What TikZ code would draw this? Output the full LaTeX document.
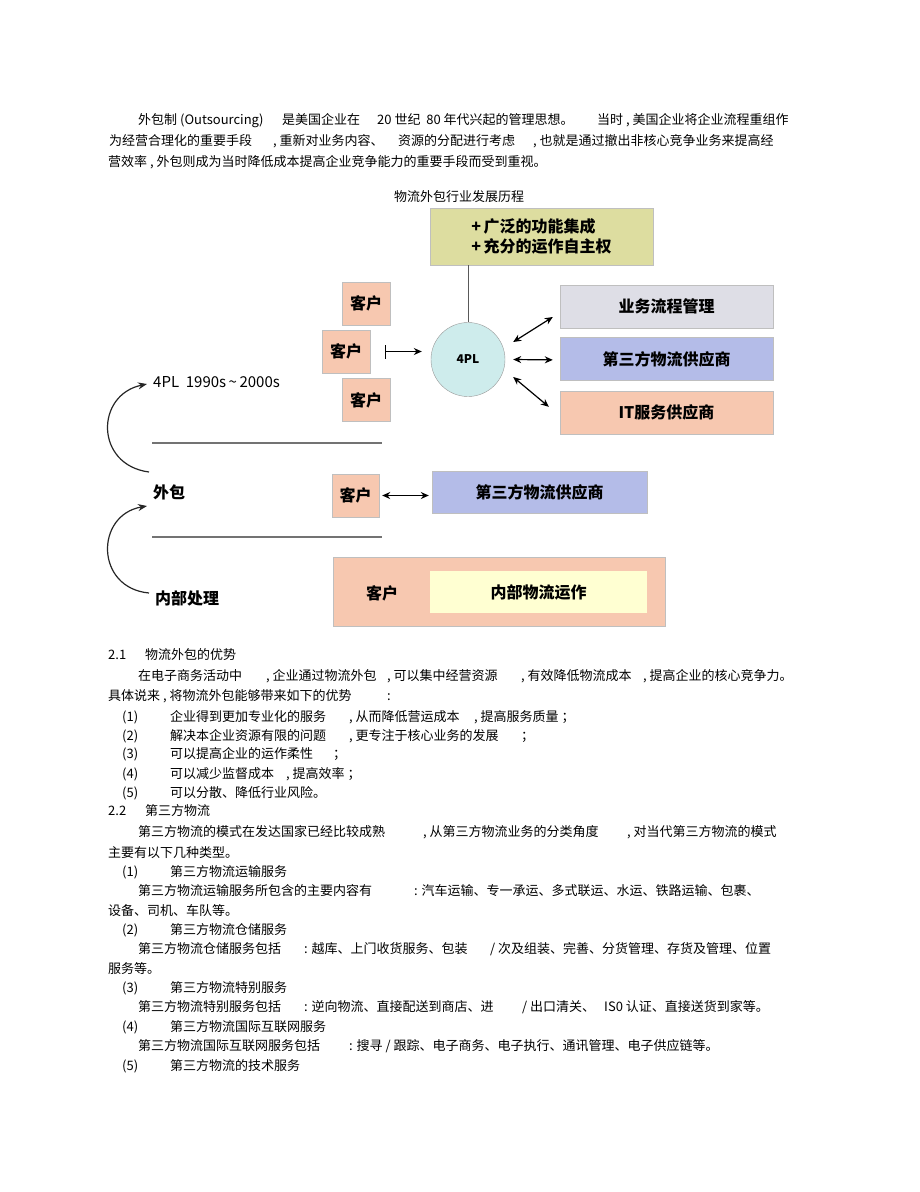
\documentclass[tikz,border=0pt]{standalone}
\usepackage{fontspec}
\setmainfont{Noto Sans CJK SC}
\usetikzlibrary{arrows.meta,positioning,calc}

\definecolor{clientc}{RGB}{247,200,176}
\definecolor{topc}{RGB}{221,221,160}
\definecolor{bpmc}{RGB}{222,222,230}
\definecolor{tplc}{RGB}{180,188,232}
\definecolor{cyanc}{RGB}{206,236,236}
\definecolor{inyc}{RGB}{255,255,210}

\newcommand\gapbox[2]{\makebox[#1pt][l]{#2}}

\tikzset{
  body/.style={anchor=base west, inner sep=0pt, font=\fontsize{13}{13}\selectfont},
  lbl/.style={font=\fontsize{16}{20}\selectfont\bfseries},
  client/.style={draw=black!25, fill=clientc, minimum width=48pt, minimum height=43pt, inner sep=0pt, lbl},
  bar/.style={draw=black!25, minimum width=213pt, minimum height=43pt, inner sep=0pt, lbl},
  dbl/.style={line width=1.2pt, {Stealth[length=8pt,width=7pt]}-{Stealth[length=8pt,width=7pt]}},
  rise/.style={line width=1.2pt, black!85, -{Stealth[length=9pt,width=7pt]}},
  sep/.style={line width=1.6pt, black!55},
  stage/.style={anchor=west, inner sep=3pt, lbl}
}

\begin{document}
\begin{tikzpicture}[x=1pt,y=-1pt]
\fill[white] (0,0) rectangle (920,1192);
\useasboundingbox (0,0) rectangle (920,1192);

% opening paragraph
\node[body] (p1a) at (138,124) {\gapbox{144}{外包制 (Outsourcing)}\gapbox{95}{是美国企业在}\gapbox{220}{20 世纪\ \ 80 年代兴起的管理思想。}当时 , 美国企业将企业流程重组作};
\node[body] (p1b) at (109,145) {\gapbox{164}{为经营合理化的重要手段}\gapbox{125}{, 重新对业务内容、}\gapbox{135}{资源的分配进行考虑}, 也就是通过撤出非核心竞争业务来提高经};
\node[body] (p1c) at (108,166) {营效率 , 外包则成为当时降低成本提高企业竞争能力的重要手段而受到重视。};

% diagram
\node[body, anchor=center] (ttl) at (459,197) {物流外包行业发展历程};
\node[draw=black!25, fill=topc, minimum width=223pt, minimum height=57pt, align=left, lbl] (tasks) at (541.5,236.5) {+\,广泛的功能集成\\+\,充分的运作自主权};

\node[circle, draw=black!40, fill=cyanc, minimum size=74pt, inner sep=0pt, font=\fontsize{12}{14}\selectfont\bfseries] (fourpl) at (468,359.5) {4PL};
\node[client] (kh1) at (366,303.5) {客户};
\node[client] (kh2) at (346,351.5) {客户};
\node[client, below=53pt of kh1] (kh3) {客户};

\node[bar, fill=bpmc] (bpm) at (666.5,306.5) {业务流程管理};
\node[bar, fill=tplc, below=9pt of bpm] (tpl) {第三方物流供应商};
\node[bar, fill=clientc, below=10pt of tpl] (its) {IT服务供应商};

\draw[line width=1pt, black!65] (fourpl.north) -- (fourpl.north |- tasks.south);
\draw[line width=1.2pt, {Bar[width=14pt]}-{Stealth[length=8pt,width=7pt]}] ([xshift=15pt]kh2.east) -- ([xshift=-9pt]kh2.east -| fourpl.west);
\draw[dbl] ($(fourpl.east)+(8,-17.5)$) -- ($(bpm.west)+(-7,10.5)$);
\draw[dbl] ($(fourpl.east)+(8,0)$) -- ($(tpl.west)+(-7,1)$);
\draw[dbl] ($(fourpl.east)+(8,17.5)$) -- ($(its.west)+(-11,-5.5)$);

\node[stage, font=\fontsize{15}{18}\selectfont] (e4pl) at (150,382) {4PL\ \ 1990s\,\textasciitilde\,2000s};
\node[stage] (ewb) at (150,492) {外包};
\node[stage] (enb) at (152,598) {内部处理};
\draw[sep] (152,443) -- (382,443);
\draw[sep] (152,537) -- (382,537);
\coordinate (up1) at (149,472);
\coordinate (up2) at (149,593);
\draw[rise] (up1) .. controls (95,465) and (95,395) .. ([shift={(-3,2)}]e4pl.west);
\draw[rise] (up2) .. controls (95,588) and (95,515) .. ([shift={(-3,14)}]ewb.west);

\node[client, minimum width=47pt] (kh4) at (355.5,495.5) {客户};
\node[bar, fill=tplc, minimum width=215pt, minimum height=42pt] (wtpl) at (539.5,492) {第三方物流供应商};
\draw[dbl] ([xshift=3pt]kh4.east) -- ([xshift=-3pt]kh4.east -| wtpl.west);

\node[draw=black!25, fill=clientc, minimum width=332pt, minimum height=69pt] (nb) at (499,591.5) {};
\node[fill=inyc, minimum width=217pt, minimum height=42pt, lbl] (inner) at (538.5,592) {内部物流运作};
\node[lbl] (kh5) at (382,593) {客户};

% section 2.1
\node[body] (h21) at (108,659) {\gapbox{37}{2.1}物流外包的优势};
\node[body] (p2a) at (138,680) {\gapbox{128}{在电子商务活动中}\gapbox{121}{, 企业通过物流外包}\gapbox{134}{, 可以集中经营资源}\gapbox{122}{, 有效降低物流成本}, 提高企业的核心竞争力。};
\node[body] (p2b) at (108,700) {\gapbox{279}{具体说来 , 将物流外包能够带来如下的优势}:};
\node[body] (i1) at (122,721) {\gapbox{48}{(1)}\gapbox{179}{企业得到更加专业化的服务}\gapbox{125}{, 从而降低营运成本}, 提高服务质量 ；};
\node[body] (i2) at (122,740) {\gapbox{48}{(2)}\gapbox{179}{解决本企业资源有限的问题}\gapbox{172}{, 更专注于核心业务的发展}；};
\node[body] (i3) at (122,758) {\gapbox{48}{(3)}\gapbox{163}{可以提高企业的运作柔性}；};
\node[body] (i4) at (122,778) {\gapbox{48}{(4)}\gapbox{116}{可以减少监督成本}, 提高效率 ；};
\node[body] (i5) at (122,797) {\gapbox{48}{(5)}可以分散、降低行业风险。};

% section 2.2
\node[body] (h22) at (108,815) {\gapbox{37}{2.2}第三方物流};
\node[body] (p3a) at (138,836) {\gapbox{285}{第三方物流的模式在发达国家已经比较成熟}\gapbox{204}{, 从第三方物流业务的分类角度}, 对当代第三方物流的模式};
\node[body] (p3b) at (108,857) {主要有以下几种类型。};
\node[body] (j1) at (122,876) {\gapbox{48}{(1)}第三方物流运输服务};
\node[body] (p4a) at (138,895) {\gapbox{276}{第三方物流运输服务所包含的主要内容有}: 汽车运输、专一承运、多式联运、水运、铁路运输、包裹、};
\node[body] (p4b) at (108,915) {设备、司机、车队等。};
\node[body] (j2) at (122,934) {\gapbox{48}{(2)}第三方物流仓储服务};
\node[body] (p5a) at (138,953) {\gapbox{166}{第三方物流仓储服务包括}\gapbox{186}{: 越库、上门收货服务、包装}/ 次及组装、完善、分货管理、存货及管理、位置};
\node[body] (p5b) at (108,973) {服务等。};
\node[body] (j3) at (122,992) {\gapbox{48}{(3)}第三方物流特别服务};
\node[body] (p6a) at (138,1011) {\gapbox{166}{第三方物流特别服务包括}\gapbox{218}{: 逆向物流、直接配送到商店、进}\gapbox{82}{/ 出口清关、}IS0 认证、直接送货到家等。};
\node[body] (j4) at (122,1031) {\gapbox{48}{(4)}第三方物流国际互联网服务};
\node[body] (p7a) at (138,1050) {\gapbox{211}{第三方物流国际互联网服务包括}: 搜寻 / 跟踪、电子商务、电子执行、通讯管理、电子供应链等。};
\node[body] (j5) at (122,1070) {\gapbox{48}{(5)}第三方物流的技术服务};
\end{tikzpicture}
\end{document}
